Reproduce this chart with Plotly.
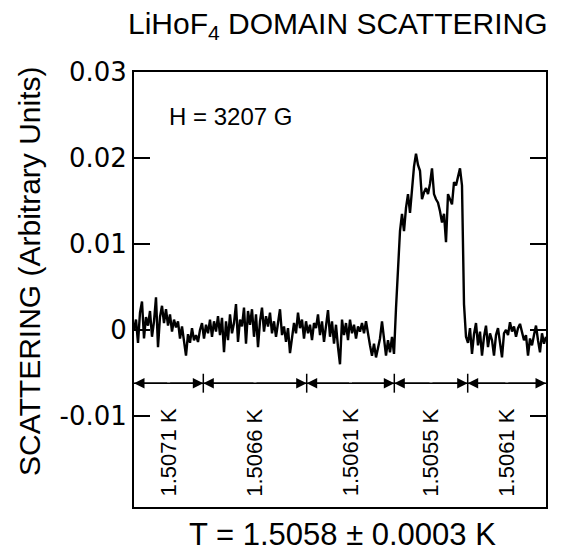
import plotly.graph_objects as go

# ---- data ----
scattering = [
    0.0000, 0.0012, -0.0015, 0.0020, 0.0033, -0.0010, 0.0015, 0.0005, 0.0022, -0.0008,
    0.0010, 0.0038, -0.0020, 0.0015, 0.0028, 0.0008, 0.0024, 0.0005, 0.0018, -0.0002,
    0.0012, 0.0003, 0.0010, -0.0010, 0.0004, -0.0012, -0.0030, -0.0005, -0.0015, 0.0002,
    -0.0012, -0.0006, -0.0014, 0.0000, 0.0008, -0.0010, 0.0006, -0.0004, 0.0012, -0.0008,
    0.0010, -0.0002, 0.0016, -0.0006, 0.0014, -0.0026, 0.0010, -0.0012, 0.0018, -0.0004,
    0.0008, 0.0030, -0.0014, 0.0012, 0.0004, 0.0026, -0.0016, 0.0022, 0.0006, 0.0024,
    -0.0008, 0.0018, -0.0020, 0.0010, 0.0026, -0.0002, 0.0016, 0.0004, 0.0020, -0.0004,
    0.0010, -0.0008, 0.0006, 0.0024, -0.0006, 0.0004, -0.0014, 0.0002, -0.0027, -0.0006,
    0.0008, -0.0004, 0.0020, 0.0002, 0.0012, -0.0010, 0.0010, -0.0004, 0.0006, -0.0012,
    0.0008, 0.0002, 0.0018, -0.0006, 0.0010, -0.0014, 0.0004, 0.0023, -0.0008, 0.0010,
    -0.0016, 0.0006, -0.0020, -0.0040, 0.0012, -0.0006, 0.0008, -0.0012, 0.0012, -0.0004,
    0.0006, -0.0010, 0.0004, -0.0002, 0.0008, -0.0004, 0.0010, -0.0006, -0.0018, -0.0030,
    -0.0016, -0.0032, -0.0020, -0.0010, 0.0010, -0.0014, -0.0030, -0.0012, -0.0026, -0.0008,
    -0.0028, 0.0025, 0.0075, 0.0115, 0.0135, 0.0115, 0.0142, 0.0158, 0.0136, 0.0165,
    0.0190, 0.0205, 0.0192, 0.0185, 0.0152, 0.0160, 0.0165, 0.0158, 0.0170, 0.0188,
    0.0158, 0.0152, 0.0148, 0.0138, 0.0125, 0.0135, 0.0102, 0.0158, 0.0152, 0.0146,
    0.0172, 0.0168, 0.0178, 0.0188, 0.0168, 0.0030, -0.0008, -0.0015, 0.0002, -0.0028,
    -0.0005, 0.0008, -0.0018, -0.0002, -0.0030, -0.0008, 0.0005, -0.0020, -0.0004, -0.0012,
    -0.0030, -0.0006, 0.0002, -0.0016, -0.0032, -0.0004, 0.0000, -0.0006, 0.0009, -0.0002,
    0.0004, -0.0008, 0.0002, 0.0007, -0.0004, -0.0012, -0.0006, -0.0030, -0.0010, -0.0018,
    -0.0006, 0.0005, -0.0012, -0.0026, -0.0004, -0.0016, -0.0008,
]
sample = list(range(len(scattering)))

segment_edges = [0, 34.65, 86.35, 130.15, 166.85, 206]
segment_labels = ["1.5071 K", "1.5066 K", "1.5061 K", "1.5055 K", "1.5061 K"]
ytick_vals = [-0.01, 0, 0.01, 0.02, 0.03]
ytick_text = ["-0.01", "0", "0.01", "0.02", "0.03"]

title_text = "LiHoF<sub>4</sub> DOMAIN SCATTERING"
ytitle_text = "SCATTERING (Arbitrary Units)"
xtitle_text = "T = 1.5058 ± 0.0003 K"
field_text = "H = 3207 G"

# ---- figure ----
FONT = "Liberation Sans"
TICKFONT = "DejaVu Sans"
arrow_y = -0.0062
label_y = -0.0143

fig = go.Figure()
fig.add_trace(go.Scatter(x=sample, y=scattering, mode="lines",
                         line=dict(color="black", width=2.4), showlegend=False,
                         hoverinfo="skip"))

# arrow line
fig.add_trace(go.Scatter(x=[segment_edges[0], segment_edges[-1]], y=[arrow_y, arrow_y],
                         mode="lines", line=dict(color="black", width=1.5),
                         showlegend=False, hoverinfo="skip"))

annotations = []
for i, lab in enumerate(segment_labels):
    a, b = segment_edges[i], segment_edges[i + 1]
    mid = (a + b) / 2
    for edge in (a, b):
        annotations.append(dict(x=edge, y=arrow_y, ax=mid, ay=arrow_y,
                                xref="x", yref="y", axref="x", ayref="y",
                                text="", showarrow=True, arrowhead=2,
                                arrowsize=1.4, arrowwidth=1.5, arrowcolor="black",
                                standoff=0, startstandoff=0))
    annotations.append(dict(x=mid, y=label_y, xref="x", yref="y", text=lab,
                            showarrow=False, textangle=-90,
                            font=dict(family=FONT, size=22, color="black")))

shapes = []
for e in segment_edges[1:-1]:
    shapes.append(dict(type="line", xref="x", yref="y", x0=e, x1=e,
                       y0=arrow_y - 0.0011, y1=arrow_y + 0.0011,
                       line=dict(color="black", width=1.5)))

annotations += [
    dict(x=0.494, y=1.108, xref="paper", yref="paper", text=title_text, showarrow=False,
         xanchor="center", yanchor="middle",
         font=dict(family=FONT, size=30, color="black")),
    dict(x=-0.255, y=0.5425, xref="paper", yref="paper", text=ytitle_text, showarrow=False,
         textangle=-90, xanchor="center", yanchor="middle",
         font=dict(family=FONT, size=30, color="black")),
    dict(x=0.507, y=-0.064, xref="paper", yref="paper", text=xtitle_text, showarrow=False,
         xanchor="center", yanchor="middle",
         font=dict(family=FONT, size=31, color="black")),
    dict(x=0.08, y=0.8966, xref="paper", yref="paper", text=field_text, showarrow=False,
         xanchor="left", yanchor="middle",
         font=dict(family=FONT, size=24, color="black")),
]

fig.update_layout(
    width=561, height=556,
    margin=dict(l=134, r=15, t=72, b=49),
    paper_bgcolor="white", plot_bgcolor="white",
    annotations=annotations, shapes=shapes,
    xaxis=dict(range=[0, 206], showticklabels=False, ticks="", showgrid=False,
               zeroline=False, showline=True, mirror=True, linecolor="black", linewidth=2),
    yaxis=dict(range=[-0.0206, 0.03], tickvals=ytick_vals, ticktext=ytick_text,
               ticks="inside", ticklen=16, tickwidth=2, tickcolor="black",
               showgrid=False, zeroline=False, showline=True, mirror="ticks",
               linecolor="black", linewidth=2,
               tickfont=dict(family=TICKFONT, size=26, color="black")),
)

fig.write_html("out.html")
